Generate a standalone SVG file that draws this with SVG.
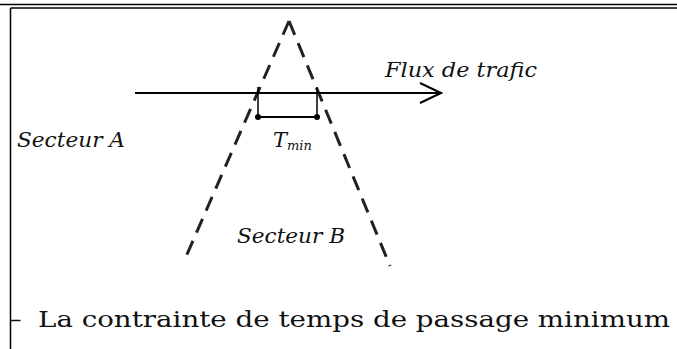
<svg xmlns="http://www.w3.org/2000/svg" width="677" height="349" viewBox="0 0 677 349">
<style>
.frame{stroke:#000;stroke-width:1.5;fill:none}
.dash{stroke:#222;stroke-width:3;fill:none;stroke-dasharray:15 9}
.ln{stroke:#000;stroke-width:2;fill:none}
.tick{stroke:#000;stroke-width:1.5;fill:none}
.lbl{font-family:'DejaVu Serif',serif;font-style:italic;font-size:21px;fill:#111}
.body{font-family:'DejaVu Serif',serif;font-size:23px;fill:#111}
</style>
<defs>
<marker id="open" viewBox="0 0 24 22" refX="22" refY="11" markerWidth="24" markerHeight="22" markerUnits="userSpaceOnUse" orient="auto">
<path d="M1,1 L22,11 L1,21" fill="none" stroke="#000" stroke-width="2"/>
</marker>
</defs>
<rect width="677" height="349" fill="#fff"/>
<g id="frame">
<line class="frame" x1="0" y1="4.5" x2="677" y2="4.5"/>
<line class="frame" x1="10.5" y1="8" x2="677" y2="8"/>
<line class="frame" x1="10.5" y1="8" x2="10.5" y2="349"/>
</g>
<g id="connectors">
<line class="dash" x1="289" y1="21" x2="185" y2="259"/>
<line class="dash" x1="289" y1="21" x2="390" y2="266"/>
<line class="ln" x1="135" y1="93" x2="441" y2="93" marker-end="url(#open)"/>
<line class="tick" x1="258" y1="87" x2="258" y2="117"/>
<line class="tick" x1="317" y1="87" x2="317" y2="117"/>
<line class="ln" x1="258" y1="117" x2="317" y2="117"/>
<circle cx="258" cy="117" r="3" fill="#000"/>
<circle cx="317" cy="117" r="3" fill="#000"/>
</g>
<g id="flux"><text class="lbl" x="385" y="77" textLength="152" lengthAdjust="spacingAndGlyphs">Flux de trafic</text></g>
<g id="secteurA"><text class="lbl" x="17" y="147" textLength="108" lengthAdjust="spacingAndGlyphs">Secteur A</text></g>
<g id="secteurB"><text class="lbl" x="237" y="243" textLength="108" lengthAdjust="spacingAndGlyphs">Secteur B</text></g>
<g id="tmin"><text class="lbl" x="273" y="147" font-size="23">T<tspan font-size="13" dy="3">min</tspan></text></g>
<g id="caption">
<text class="body" x="10" y="327">–</text>
<text class="body" x="38" y="327" textLength="632" lengthAdjust="spacingAndGlyphs">La contrainte de temps de passage minimum</text>
</g>
</svg>
